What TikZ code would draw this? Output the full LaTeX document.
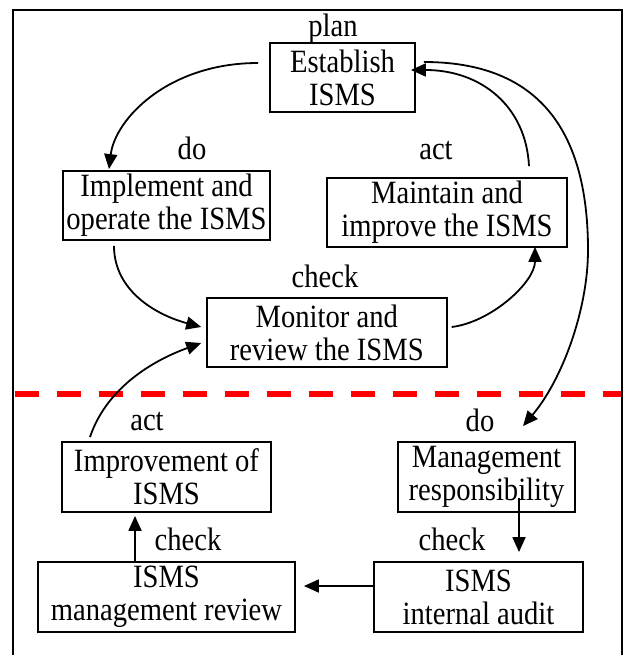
\documentclass[tikz,border=0pt]{standalone}
\usepackage{fontspec}
\setmainfont{Liberation Serif}[FakeStretch=0.88]
\usetikzlibrary{arrows.meta,calc}
\begin{document}
\begin{tikzpicture}[x=1pt,y=-1pt,
  box/.style={draw, line width=1.8pt, inner sep=0pt, align=center,
    font=\fontsize{32.5}{33}\selectfont},
  lbl/.style={inner sep=0pt, anchor=base, font=\fontsize{32.5}{33}\selectfont},
  conn/.style={line width=1.8pt, -{Triangle[length=15pt,width=13pt]}},
]
\useasboundingbox (0,0) rectangle (625,655);
\fill[white] (0,0) rectangle (625,655);

% divider between the ISMS cycle and the management processes
\draw[red, line width=6pt, dash pattern=on 24pt off 18pt] (14.7,394) -- (621,394);

% outer frame
\draw[line width=1.8pt] (13,655) -- (13,10) -- (622,10) -- (622,655);

% process boxes
\node[box, minimum width=145pt, minimum height=69pt] (est) at (342.5,77.5) {Establish\\ISMS};
\node[box, minimum width=207pt, minimum height=69pt] (imp) at (166.5,205.5) {Implement and\\operate the ISMS};
\node[box, minimum width=240pt, minimum height=69pt] (mnt) at (447,212.5) {Maintain and\\improve the ISMS};
\node[box, minimum width=240pt, minimum height=69pt] (mon) at (326.8,332.5) {Monitor and\\review the ISMS};
\node[box, minimum width=209pt, minimum height=70pt] (impv) at (166.5,477) {Improvement of\\ISMS};
\node[box, minimum width=177pt, minimum height=70pt] (mgr) at (486.5,477) {Management\\responsibility};
\node[box, minimum width=257pt, minimum height=70pt] (mrev) at (166.5,597) {ISMS\\management review};
\node[box, minimum width=209pt, minimum height=70pt] (aud) at (478.5,597) {ISMS\\internal audit};

% phase labels
\node[lbl] (lplan) at (333,37) {plan};
\node[lbl] (ldo1) at (192,160) {do};
\node[lbl] (lact1) at (436,160) {act};
\node[lbl] (lchk1) at (325,287) {check};
\node[lbl] (lact2) at (147,430) {act};
\node[lbl] (ldo2) at (480,431) {do};
\node[lbl] (lchk2) at (188,550) {check};
\node[lbl] (lchk3) at (452,550) {check};

% PDCA cycle
\draw[conn] ($(est.west)+(-11,-14.5)$) .. controls +(-90,0) and +(6,-50) .. ($(imp.north)+(-57.5,-1)$);
\draw[conn] ($(imp.south)+(-52.5,5)$) .. controls +(0,45) and +(-45,-12) .. ($(mon.west)+(-4.7,-5.5)$);
\draw[conn] ($(mon.east)+(4,-5.5)$) .. controls +(40,-5) and +(0,35) .. ($(mnt.south)+(88,-1)$);
\draw[conn] ($(mnt.north)+(82,-11)$) .. controls +(-3,-60) and +(70,0) .. ($(est.east)+(-5,-7.5)$);

% link from planning to management responsibility
\coordinate (rbend) at (588,250);
\draw[conn] ($(est.east)+(8,-15.5)$) .. controls +(110,0) and +(0,-125) .. (rbend)
  .. controls +(0,60) and +(39,-46) .. ($(mgr.north)+(36.5,-15)$);

% feedback into monitoring
\draw[conn] ($(impv.north)+(-76.5,-4)$) .. controls +(15,-45) and +(-55,20) .. ($(mon.west)+(-4.7,10.5)$);

% management processes
\draw[conn] ($(mgr.south)+(32.5,-15)$) -- ($(aud.north)+(40.5,-9)$);
\draw[conn] ($(aud.west)+(0,-11)$) -- ($(mrev.east)+(8,-11)$);
\draw[conn] ($(mrev.north)+(-31.5,0)$) -- ($(impv.south)+(-31.5,3)$);
\end{tikzpicture}
\end{document}
